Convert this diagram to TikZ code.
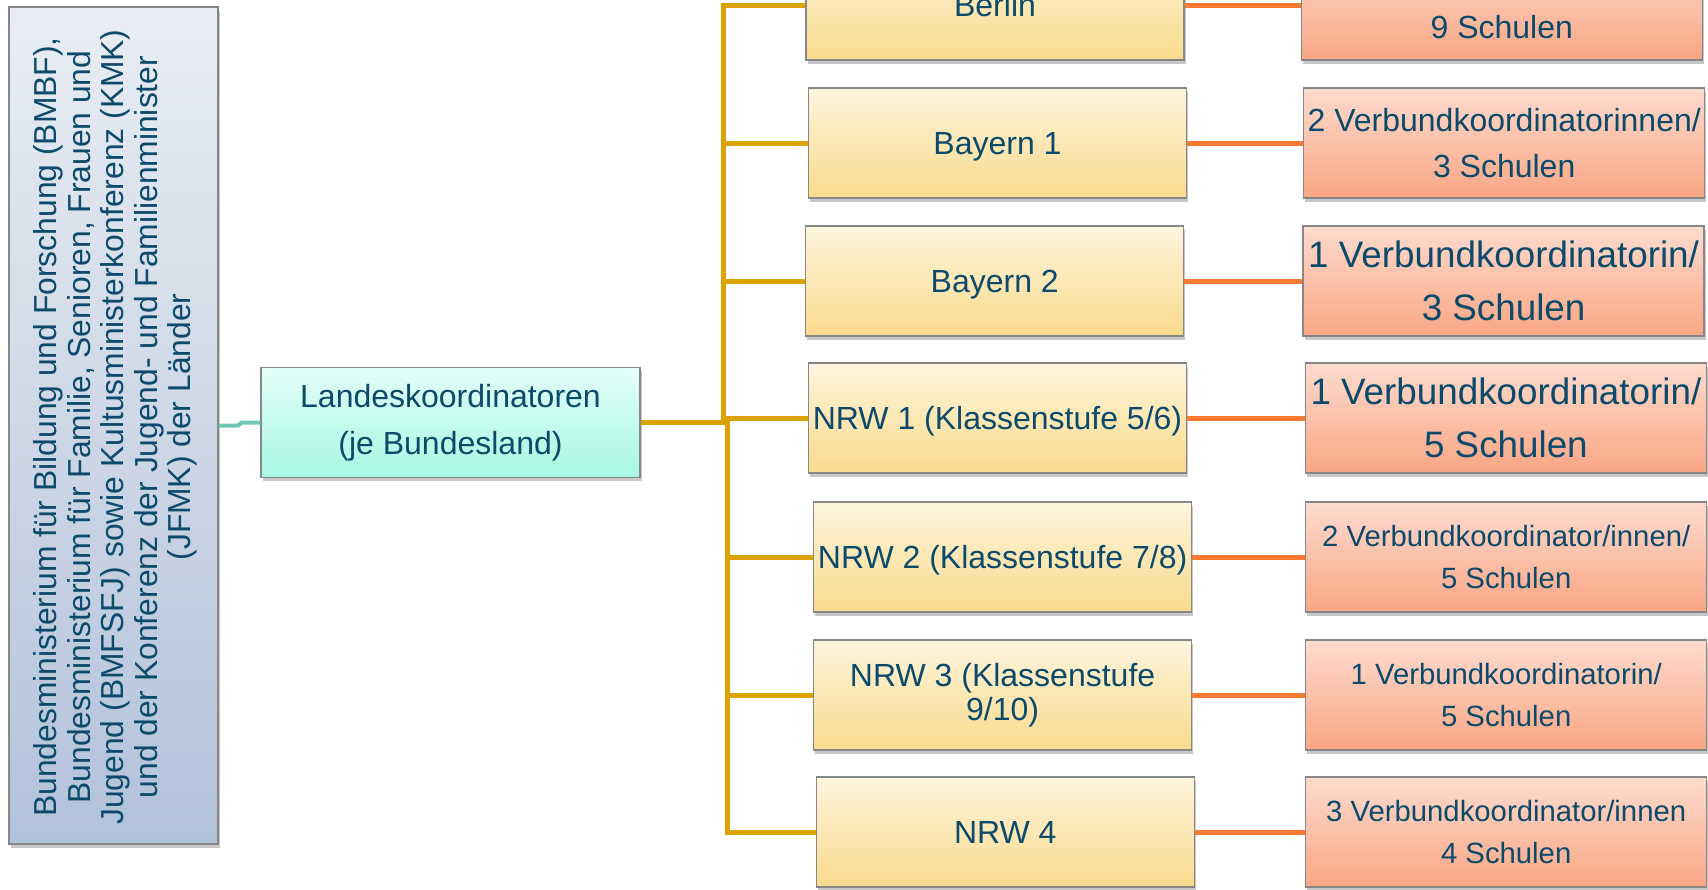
\documentclass[tikz,border=0pt]{standalone}
\usepackage{fontspec}
\setmainfont{Liberation Sans}
\usetikzlibrary{shadows}
\definecolor{txt}{RGB}{12,74,108}
\definecolor{goldc}{RGB}{220,163,0}
\definecolor{orngc}{RGB}{250,122,50}
\definecolor{tealc}{RGB}{110,200,175}
\definecolor{bordc}{RGB}{135,135,135}
\definecolor{yTop}{RGB}{254,245,221}
\definecolor{yBot}{RGB}{250,218,140}
\definecolor{sTop}{RGB}{253,219,206}
\definecolor{sBot}{RGB}{249,166,132}
\definecolor{mTop}{RGB}{226,255,248}
\definecolor{mBot}{RGB}{168,247,226}
\definecolor{lTop}{RGB}{233,237,243}
\definecolor{lBot}{RGB}{178,194,218}
\begin{document}
\begin{tikzpicture}[x=1pt,y=-1pt,
  box/.style={draw=bordc, line width=1.3pt, inner sep=0pt, align=center, text=txt,
    minimum height=110pt,
    drop shadow={shadow xshift=1.5pt, shadow yshift=-3.5pt, fill=black, opacity=0.22}},
  ybox/.style={box, minimum width=378pt, top color=yTop, bottom color=yBot,
    font=\fontsize{32}{34.5}\selectfont},
  yone/.style={ybox, text height=23pt, text depth=0pt},
  sbox/.style={box, minimum width=401pt, top color=sTop, bottom color=sBot},
  fmid/.style={font=\fontsize{32}{46.7}\selectfont},
  fbig/.style={font=\fontsize{36.8}{53}\selectfont},
  fsml/.style={font=\fontsize{29.3}{41.5}\selectfont},
  goldl/.style={draw=goldc, line width=5pt},
  orngl/.style={draw=orngc, line width=5pt},
  teall/.style={draw=tealc, line width=4pt},
]
\useasboundingbox (0,0) rectangle (1708,889);
\clip (0,0) rectangle (1708,889);

% left box
\node[box, minimum width=209pt, minimum height=837pt, top color=lTop, bottom color=lBot] (lbox) at (113.5,425.5) {};
\node[rotate=90, align=center, text=txt, inner sep=0pt, font=\fontsize{31.8}{33.5}\selectfont] (ltext) at (115.5,427)
  {Bundesministerium für Bildung und Forschung (BMBF),\\
   Bundesministerium für Familie, Senioren, Frauen und\\
   Jugend (BMFSFJ) sowie Kultusministerkonferenz (KMK)\\
   und der Konferenz der Jugend- und Familienminister\\
   (JFMK) der Länder};

% Landeskoordinatoren
\node[box, minimum width=379pt, top color=mTop, bottom color=mBot, fmid] (land) at (450.5,422.5) {Landeskoordinatoren\\(je Bundesland)};

% yellow boxes
\node[yone] (berlin) at (995,5) {Berlin};
\node[yone] (bay1) at (997.5,143) {Bayern 1};
\node[yone] (bay2) at (994.7,281) {Bayern 2};
\node[yone] (nrw1) at (997.5,418) {NRW 1 (Klassenstufe 5/6)};
\node[yone] (nrw2) at (1002.6,557) {NRW 2 (Klassenstufe 7/8)};
\node[ybox] (nrw3) at (1002.6,695) {NRW 3 (Klassenstufe\\9/10)};
\node[yone] (nrw4) at (1005.3,832) {NRW 4};

% salmon boxes
\node[sbox] (s1) at (1501.8,5) {};
\node[text=txt, inner sep=0pt, fmid] (s1t) at (1501.8,26.7) {9 Schulen};
\node[sbox, fmid] (s2) at (1504.2,143) {2 Verbundkoordinatorinnen/\\3 Schulen};
\node[sbox, fbig] (s3) at (1503.6,281) {1 Verbundkoordinatorin/\\3 Schulen};
\node[sbox, fbig] (s4) at (1505.9,418) {1 Verbundkoordinatorin/\\5 Schulen};
\node[sbox, fsml] (s5) at (1506.2,557) {2 Verbundkoordinator/innen/\\5 Schulen};
\node[sbox, fsml] (s6) at (1506.2,695) {1 Verbundkoordinatorin/\\5 Schulen};
\node[sbox, fsml] (s7) at (1506.2,832) {3 Verbundkoordinator/innen\\4 Schulen};

% teal connector
\coordinate (tj1) at (238,425.5);
\coordinate (tj2) at (242,422.5);
\draw[teall] (lbox.east) -- (tj1) -- (tj2) -- (land.west);

% gold trunk
\coordinate (tu) at (723,422.5);
\coordinate (tl) at (727,422.5);
\draw[goldl] (land.east) -- (tl);
\foreach \n in {berlin,bay1,bay2} \draw[goldl] (\n.west) -| (tu);
\foreach \n in {nrw1,nrw2,nrw3,nrw4} \draw[goldl] (\n.west) -| (tl);

% orange connectors
\draw[orngl] (berlin.east) -- (s1.west);
\draw[orngl] (bay1.east) -- (s2.west);
\draw[orngl] (bay2.east) -- (s3.west);
\draw[orngl] (nrw1.east) -- (s4.west);
\draw[orngl] (nrw2.east) -- (s5.west);
\draw[orngl] (nrw3.east) -- (s6.west);
\draw[orngl] (nrw4.east) -- (s7.west);
\end{tikzpicture}
\end{document}
